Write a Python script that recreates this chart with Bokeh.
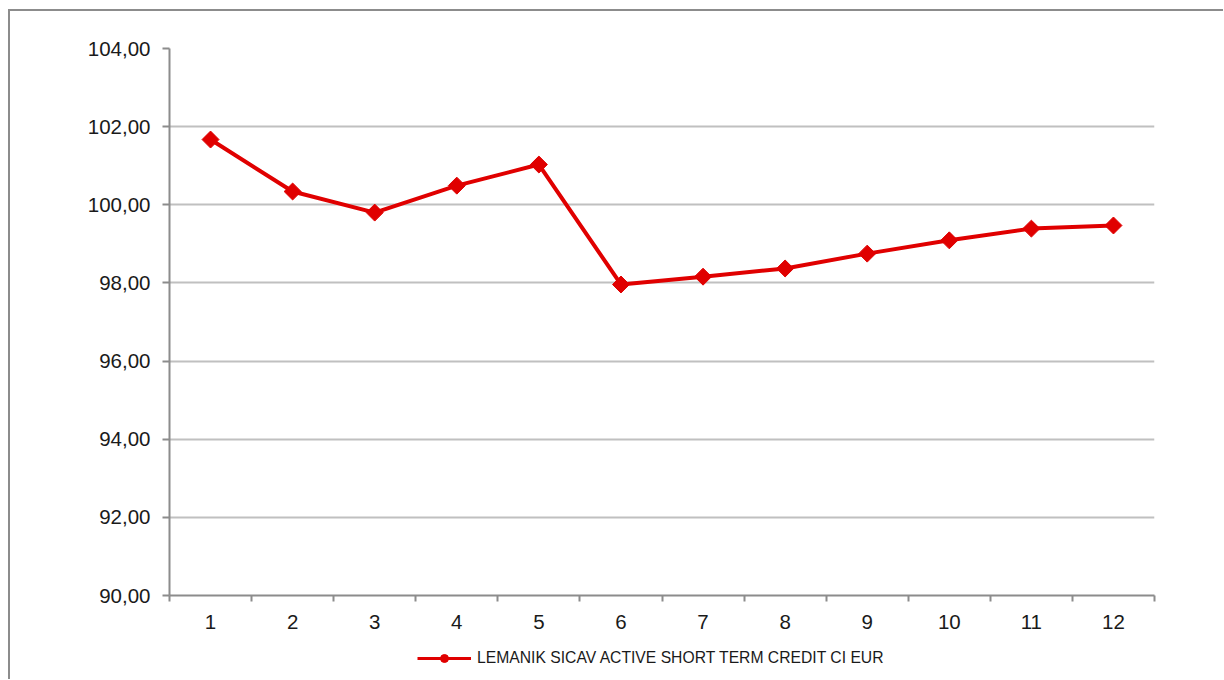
import numpy as np
from bokeh.plotting import figure
from bokeh.layouts import column
from bokeh.models import (FixedTicker, CustomJSTickFormatter, Legend, LegendItem,
                          ColumnDataSource, Range1d)
from bokeh.embed import file_html
from bokeh.resources import INLINE

months = [1, 2, 3, 4, 5, 6, 7, 8, 9, 10, 11, 12]
values = [101.67, 100.34, 99.80, 100.49, 101.03, 97.96, 98.16, 98.37, 98.75, 99.09, 99.39, 99.47]
series_name = "LEMANIK SICAV ACTIVE SHORT TERM CREDIT CI EUR"
y_ticks = [90, 92, 94, 96, 98, 100, 102, 104]

RED = "#e00000"
FONT = "Liberation Sans"

p = figure(width=1213, height=630, output_backend="svg", toolbar_location=None,
           x_range=Range1d(0.5, 12.5), y_range=Range1d(90, 104),
           min_border_left=159, min_border_right=69, min_border_top=37, min_border_bottom=46)
p.outline_line_color = None
p.background_fill_color = "white"
p.border_fill_color = "white"

src = ColumnDataSource(dict(x=months, y=values))
p.line("x", "y", source=src, line_color=RED, line_width=4)
p.scatter("x", "y", source=src, marker="square", angle=np.pi / 4, size=12,
          fill_color=RED, line_color=RED)

# Y axis
p.yaxis.ticker = FixedTicker(ticks=y_ticks)
p.yaxis.formatter = CustomJSTickFormatter(code="return tick.toFixed(2).replace('.', ',');")
p.yaxis.axis_line_color = "#8c8c8c"
p.yaxis.axis_line_width = 2
p.yaxis.major_tick_line_color = "#8c8c8c"
p.yaxis.major_tick_line_width = 2
p.yaxis.major_tick_out = 7
p.yaxis.major_tick_in = 0
p.yaxis.minor_tick_line_color = None
p.yaxis.major_label_text_font = FONT
p.yaxis.major_label_text_font_size = "20.5px"
p.yaxis.major_label_text_color = "#1a1a1a"
p.yaxis.major_label_standoff = 12

# X axis
p.xaxis.ticker = FixedTicker(ticks=months, minor_ticks=[m - 0.5 for m in months] + [12.5])
p.xaxis.axis_line_color = "#8c8c8c"
p.xaxis.axis_line_width = 2
p.xaxis.major_tick_line_color = None
p.xaxis.major_tick_out = 0
p.xaxis.major_tick_in = 0
p.xaxis.minor_tick_line_color = "#8c8c8c"
p.xaxis.minor_tick_line_width = 2
p.xaxis.minor_tick_out = 6
p.xaxis.minor_tick_in = 0
p.xaxis.major_label_text_font = FONT
p.xaxis.major_label_text_font_size = "20.5px"
p.xaxis.major_label_text_color = "#1a1a1a"
p.xaxis.major_label_standoff = 13

# grid
p.xgrid.grid_line_color = None
p.ygrid.ticker = FixedTicker(ticks=y_ticks)
p.ygrid.grid_line_color = "#c0c0c0"
p.ygrid.grid_line_width = 2

# Legend strip (separate figure so that it is not clipped by the main frame)
lp = figure(width=1213, height=38, output_backend="svg", toolbar_location=None,
            x_range=Range1d(0, 1), y_range=Range1d(0, 1),
            min_border_left=0, min_border_right=0, min_border_top=0, min_border_bottom=0)
lp.axis.visible = False
lp.grid.visible = False
lp.outline_line_color = None
lp.border_fill_color = "white"
offscreen = ColumnDataSource(dict(x=[-10], y=[-10]))
lg_line = lp.line("x", "y", source=offscreen, line_color=RED, line_width=3)
lg_mark = lp.scatter("x", "y", source=offscreen, marker="circle", size=8,
                     fill_color=RED, line_color=RED)
legend = Legend(items=[LegendItem(label=series_name, renderers=[lg_line, lg_mark])],
                orientation="horizontal", location=(248, 11),
                label_text_font=FONT, label_text_font_size="15.7px",
                label_text_color="#1a1a1a", glyph_width=54, glyph_height=20,
                label_standoff=6, border_line_color=None, background_fill_alpha=0,
                padding=0, margin=0)
lp.add_layout(legend, "center")

layout = column(p, lp, spacing=0,
                styles={"margin-left": "8px", "margin-top": "9px",
                        "border-left": "2px solid #8c8c8c", "border-top": "2px solid #8c8c8c"})

open("out.html", "w").write(file_html(layout, INLINE))
